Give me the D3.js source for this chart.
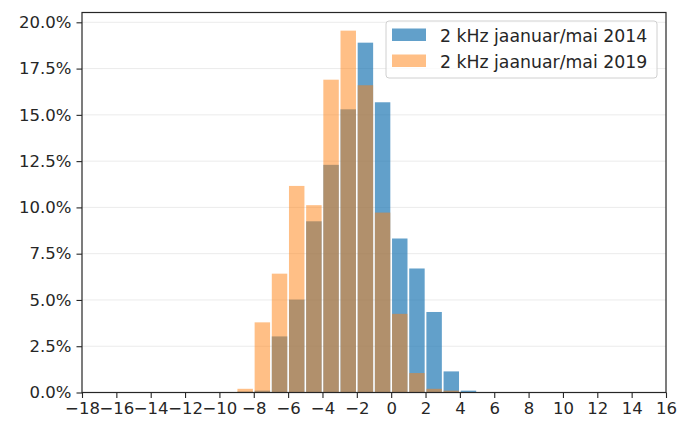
<!DOCTYPE html>
<html>
<head>
<meta charset="utf-8">
<script src="https://cdn.jsdelivr.net/npm/d3@7"></script>
<style>
  html, body { margin: 0; padding: 0; background: #fff; }
  svg { display: block; }
  text { font-family: "DejaVu Sans", sans-serif; fill: #262626; }
</style>
</head>
<body>
<svg id="chart" width="679" height="428"></svg>
<script>
// Histogram bins (left edges, width 1 dB) and share of observations in percent
const binStarts = [-9, -8, -7, -6, -5, -4, -3, -2, -1, 0, 1, 2, 3, 4];
const share2014 = [0.05, 0.1, 3.03, 5.02, 9.25, 12.3, 15.3, 18.9, 15.68, 8.32, 6.7, 4.35, 1.14, 0.1];
const share2019 = [0.2, 3.79, 6.42, 11.16, 10.12, 16.9, 19.55, 16.6, 9.72, 4.25, 1.05, 0.2, 0.1, 0.0];
const seriesNames = ["2 kHz jaanuar/mai 2014", "2 kHz jaanuar/mai 2019"];
const xTicks = d3.range(-18, 17, 2);
const yTicks = [0, 2.5, 5, 7.5, 10, 12.5, 15, 17.5, 20];

const svg = d3.select("#chart");
const m = { left: 82, right: 666, top: 12.5, bottom: 392.5 };

const x = d3.scaleLinear().domain([-18, 16]).range([m.left, m.right]);
const y = d3.scaleLinear().domain([0, 20.53]).range([m.bottom, m.top]);

// horizontal grid
svg.append("g").selectAll("line").data(yTicks).join("line")
  .attr("x1", m.left).attr("x2", m.right)
  .attr("y1", d => y(d)).attr("y2", d => y(d))
  .attr("stroke", "#ebebeb").attr("stroke-width", 1);

const rwidth = 0.9;
function drawBars(values, color, opacity) {
  const data = binStarts.map((b, i) => ({ b, v: values[i] })).filter(d => d.v > 0);
  svg.append("g").selectAll("rect").data(data).join("rect")
    .attr("x", d => x(d.b + (1 - rwidth) / 2))
    .attr("width", d => x(d.b + 1 - (1 - rwidth) / 2) - x(d.b + (1 - rwidth) / 2))
    .attr("y", d => y(d.v))
    .attr("height", d => y(0) - y(d.v))
    .attr("fill", color)
    .attr("fill-opacity", opacity);
}
drawBars(share2014, "#1f77b4", 0.7);
drawBars(share2019, "#ff7f0e", 0.5);

// axes
const fmtX = d => (d < 0 ? "\u2212" + Math.abs(d) : String(d));
const xAxis = d3.axisBottom(x).tickValues(xTicks).tickFormat(fmtX).tickSize(5.5).tickPadding(4);
const yAxis = d3.axisLeft(y).tickValues(yTicks).tickFormat(d => d.toFixed(1) + "%").tickSize(5.5).tickPadding(5);

const gx = svg.append("g").attr("transform", `translate(0,${m.bottom})`).call(xAxis);
const gy = svg.append("g").attr("transform", `translate(${m.left},0)`).call(yAxis);
[gx, gy].forEach(g => {
  g.select(".domain").remove();
  g.selectAll(".tick line").attr("stroke", "#262626").attr("stroke-width", 1.1);
  g.selectAll(".tick text").style("font-family", "DejaVu Sans").style("font-size", "16.5px").attr("fill", "#262626");
});

// frame
svg.append("rect")
  .attr("x", m.left).attr("y", m.top)
  .attr("width", m.right - m.left).attr("height", m.bottom - m.top)
  .attr("fill", "none").attr("stroke", "#262626").attr("stroke-width", 1.2);

// legend
const lg = svg.append("g");
lg.append("rect")
  .attr("x", 386).attr("y", 21).attr("width", 271).attr("height", 57)
  .attr("rx", 3).attr("fill", "#fff").attr("fill-opacity", 0.8)
  .attr("stroke", "#d0d0d0").attr("stroke-width", 1);
const legendColors = [["#1f77b4", 0.7], ["#ff7f0e", 0.5]];
seriesNames.forEach((name, i) => {
  const yy = 28.5 + i * 26;
  lg.append("rect").attr("x", 392).attr("y", yy).attr("width", 34).attr("height", 12.5)
    .attr("fill", legendColors[i][0]).attr("fill-opacity", legendColors[i][1]);
  lg.append("text").attr("x", 440).attr("y", yy + 13.5)
    .style("font-size", "17.3px").text(name);
});
</script>
</body>
</html>
